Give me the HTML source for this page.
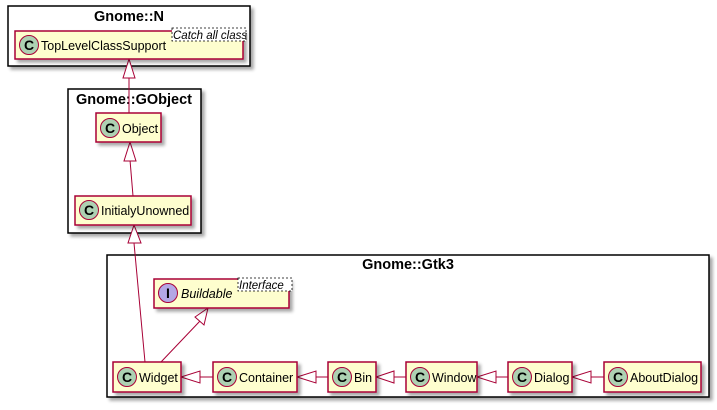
<!DOCTYPE html>
<html><head><meta charset="utf-8"><style>
html,body{margin:0;padding:0;background:#fff;}
svg{display:block;font-family:"Liberation Sans",sans-serif;}
</style></head><body>
<svg width="717" height="410" viewBox="0 0 717 410" xmlns="http://www.w3.org/2000/svg">
<defs>
<filter id="sh" x="-10%" y="-10%" width="130%" height="140%"><feGaussianBlur in="SourceAlpha" stdDeviation="1.5"/><feOffset dx="3" dy="3"/><feComponentTransfer><feFuncA type="linear" slope="0.35"/></feComponentTransfer><feMerge><feMergeNode/><feMergeNode in="SourceGraphic"/></feMerge></filter>
</defs>
<g fill="#fff" stroke="#000" stroke-width="1.5" filter="url(#sh)">
<rect x="8" y="6" width="242" height="60"/>
<rect x="68" y="89" width="133" height="144"/>
<rect x="107" y="255" width="602" height="142"/>
</g>
<g font-weight="bold" font-size="14.5" text-anchor="middle" fill="#000">
<text x="129" y="21">Gnome::N</text>
<text x="134" y="104">Gnome::GObject</text>
<text x="408" y="269">Gnome::Gtk3</text>
</g>
<g stroke="#A80036" stroke-width="1" fill="none">
<line x1="129" y1="78" x2="129" y2="113"/>
<polygon points="129,59 123,78 135,78" fill="#fff"/>
<line x1="130" y1="160" x2="133" y2="196"/>
<polygon points="130,142 124,161 136,161" fill="#fff"/>
<line x1="134" y1="243" x2="145" y2="362"/>
<polygon points="134,225 128,243 141,243" fill="#fff"/>
<line x1="200" y1="321" x2="161" y2="362"/>
<polygon points="208,308 195,317 204,325" fill="#fff"/>
<line x1="200" y1="377" x2="213" y2="377"/><polygon points="181,377 200,371 200,383" fill="#fff"/>
<line x1="316" y1="377" x2="328" y2="377"/><polygon points="297,377 316,371 316,383" fill="#fff"/>
<line x1="394" y1="377" x2="406" y2="377"/><polygon points="376,377 394,371 394,383" fill="#fff"/>
<line x1="496" y1="377" x2="508" y2="377"/><polygon points="477,377 496,371 496,383" fill="#fff"/>
<line x1="591" y1="377" x2="604" y2="377"/><polygon points="572,377 591,371 591,383" fill="#fff"/>
</g>
<g fill="#FEFECE" stroke="#A80036" stroke-width="1.5" filter="url(#sh)">
<rect x="15" y="31" width="228" height="28"/>
<rect x="96" y="113" width="65" height="29"/>
<rect x="75" y="196" width="116" height="29"/>
<rect x="154" y="279" width="135" height="29"/>
<rect x="113" y="362" width="68" height="30"/>
<rect x="213" y="362" width="84" height="30"/>
<rect x="328" y="362" width="48" height="30"/>
<rect x="406" y="362" width="71" height="30"/>
<rect x="508" y="362" width="64" height="30"/>
<rect x="604" y="362" width="97" height="30"/>
</g>
<g fill="#fff" stroke="#000" stroke-width="0.8" stroke-dasharray="2,2">
<rect x="172" y="28" width="74" height="13"/>
<rect x="238" y="278" width="54" height="13"/>
</g>
<g font-style="italic" font-size="11.5" fill="#000">
<text x="173" y="39">Catch all class</text>
<text x="239" y="289">Interface</text>
</g>
<g fill="#ADD1B2" stroke="#A80036" stroke-width="1">
<circle cx="29" cy="45" r="9.5"/>
<circle cx="110" cy="128" r="9.5"/>
<circle cx="89" cy="210" r="9.5"/>
<circle cx="127" cy="377" r="9.5"/>
<circle cx="227" cy="377" r="9.5"/>
<circle cx="342" cy="377" r="9.5"/>
<circle cx="420" cy="377" r="9.5"/>
<circle cx="522" cy="377" r="9.5"/>
<circle cx="618" cy="377" r="9.5"/>
<circle cx="168" cy="293" r="9.5" fill="#B4A7E5"/>
</g>
<g font-weight="bold" font-size="14" text-anchor="middle" fill="#000">
<text x="29" y="50">C</text><text x="110" y="133">C</text><text x="89" y="215">C</text>
<text x="127" y="382">C</text><text x="227" y="382">C</text><text x="342" y="382">C</text>
<text x="420" y="382">C</text><text x="522" y="382">C</text><text x="618" y="382">C</text>
<text x="168" y="298">I</text>
</g>
<g font-size="12.5" fill="#000">
<text x="41" y="50">TopLevelClassSupport</text>
<text x="122" y="133">Object</text>
<text x="101" y="215">InitialyUnowned</text>
<text x="181" y="298" font-style="italic">Buildable</text>
<text x="139" y="382">Widget</text>
<text x="239" y="382">Container</text>
<text x="354" y="382">Bin</text>
<text x="432" y="382">Window</text>
<text x="534" y="382">Dialog</text>
<text x="630" y="382">AboutDialog</text>
</g>
</svg>
</body></html>
